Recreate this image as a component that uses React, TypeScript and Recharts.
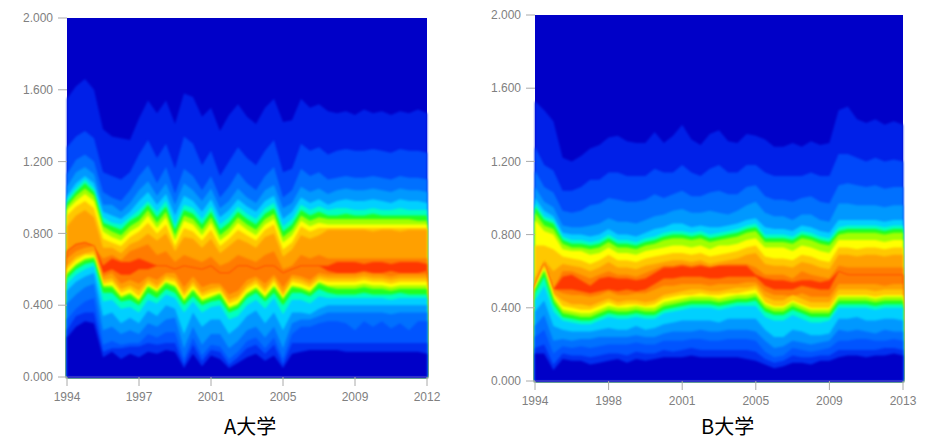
import { AreaChart, Area, XAxis, YAxis, CartesianGrid } from 'recharts';

// contour levels, in hundredths of the y unit
// U* = upper side of the ridge (top down), L* = lower side (ridge down to the floor)
const aU1 = [155,162,166,160,138,134,133,132,144,154,147,154,141,158,156,145,150,137,146,152,145,141,150,155,142,143,155,150,152,148,147,148,146,149,147,148,146,148,147,149,147];
const aU2 = [128,134,137,133,114,112,110,114,124,132,122,130,116,134,130,118,126,112,120,128,122,118,126,132,114,116,130,126,128,124,126,127,126,126,127,126,125,127,126,126,125];
const aU3 = [113,121,124,120,103,100,98,104,112,118,108,117,102,116,112,104,112,100,106,114,108,104,112,117,100,104,116,112,114,110,111,112,111,111,112,111,110,112,111,111,110];
const aU4 = [106,114,117,113,96,96,92,97,104,109,101,108,96,108,104,98,105,94,98,105,100,97,104,107,94,97,106,103,105,102,104,105,104,104,105,104,103,105,104,104,103];
const aU5 = [101,108,112,108,92,90,88,92,98,103,96,102,90,101,98,92,99,89,93,99,95,92,98,101,88,92,100,97,99,96,98,99,98,98,99,98,97,99,98,98,97];
const aU6 = [99,105,110,105,89,86,85,89,93,98,92,98,85,96,94,88,95,85,89,95,91,88,94,97,84,88,96,93,95,93,94,94,93,93,94,93,93,94,93,93,93];
const aU7 = [97,103,108,103,86,84,82,87,90,96,89,95,82,93,91,85,92,82,86,92,88,85,91,94,81,85,93,90,92,90,90,91,90,90,91,90,90,90,90,90,90];
const aU8 = [95,101,105,101,84,81,79,84,87,93,86,92,79,90,88,82,89,79,83,89,85,82,88,91,78,82,90,87,89,88,88,88,88,88,88,88,88,88,88,87,87];
const aU9 = [93,98,102,98,81,78,76,81,84,90,83,89,76,87,85,79,86,76,80,86,82,79,85,88,75,79,87,84,86,85,85,85,85,85,85,85,85,85,85,85,85];
const aU10 = [90,95,98,94,77,75,73,78,81,86,80,85,73,83,81,76,82,73,77,82,79,76,82,85,71,75,84,81,83,83,83,83,83,83,83,83,83,83,83,83,83];
const aU11 = [84,90,93,89,72,72,69,74,76,80,76,80,70,78,77,72,77,69,73,77,75,72,78,80,67,71,79,77,79,82,82,82,82,82,81,82,82,81,82,82,82];
const aU12 = [67,72,74,72,66,68,65,70,72,74,68,70,64,68,66,64,67,62,64,68,66,64,68,70,60,62,68,66,68,66,66,66,66,66,66,66,66,66,66,66,66];
const aU13 = [70,74,75,73,62,66,64,64,66,64,62,62,60,62,61,60,62,58,58,62,62,60,62,62,58,60,62,62,62,62,64,64,64,63,64,64,63,64,64,64,63];
const aL13 = [70,74,75,73,58,60,57,57,60,60,62,62,60,62,61,60,62,58,58,62,62,60,62,62,58,60,62,62,62,59,58,58,58,59,58,58,59,58,58,58,59];
const aL12 = [66,70,72,73,56,58,52,54,52,56,54,58,58,50,56,50,52,52,46,48,54,56,52,57,50,57,56,54,58,57,57,57,57,58,57,57,56,57,57,57,57];
const aL11 = [62,67,69,70,54,55,49,51,48,54,51,56,55,47,53,47,49,50,43,45,51,54,49,55,47,55,54,52,56,55,55,55,55,56,55,55,54,55,55,55,55];
const aL10 = [60,65,68,68,52,53,47,49,45,52,49,54,53,45,51,45,47,48,41,43,49,52,47,53,45,53,52,50,54,53,53,53,53,54,53,53,52,53,53,53,53];
const aL9 = [58,63,66,67,51,51,45,47,43,51,48,53,51,43,49,43,45,47,39,41,47,50,45,51,44,51,50,48,53,51,51,51,51,52,51,51,50,51,51,51,51];
const aL8 = [57,62,65,66,50,50,44,46,42,50,47,52,50,42,48,42,44,46,38,40,46,49,44,50,43,50,49,47,52,50,49,49,49,50,49,49,48,49,49,49,49];
const aL7 = [55,60,63,64,47,47,42,43,40,47,44,49,47,40,45,40,42,43,36,38,44,47,42,47,40,47,47,45,49,47,46,46,46,47,46,46,46,47,46,46,46];
const aL6 = [52,57,60,62,42,43,38,39,36,43,41,46,44,36,42,36,39,40,32,34,40,43,38,44,35,43,43,41,45,44,44,44,44,44,44,44,43,44,44,44,44];
const aL5 = [48,53,56,58,34,36,30,33,30,37,34,40,38,24,36,28,32,32,24,28,34,37,30,36,26,36,36,35,38,40,40,40,40,40,40,40,40,40,40,40,40];
const aL4 = [41,46,50,52,26,28,24,26,24,30,28,32,33,16,28,18,24,24,16,20,26,28,22,28,16,30,32,32,34,36,36,36,36,36,36,36,35,36,36,36,36];
const aL3 = [32,38,42,44,18,20,18,19,19,24,22,25,25,10,22,12,18,17,10,14,20,22,16,22,10,24,28,28,30,31,31,30,26,31,28,31,27,30,26,31,31];
const aL2 = [26,34,36,36,14,16,16,17,17,19,18,19,19,7,18,9,15,14,7,11,16,18,13,18,7,19,19,19,19,19,19,19,19,19,19,19,19,19,19,19,19];
const aL1 = [22,28,31,30,11,14,10,13,11,14,13,15,14,5,13,6,12,10,5,8,11,13,9,12,5,13,14,15,15,15,15,14,14,14,14,14,14,14,14,14,13];

const bU1 = [153,148,142,122,120,123,127,129,133,134,131,130,130,136,130,134,140,132,129,135,137,131,130,135,134,132,128,128,130,128,131,129,130,148,150,143,141,143,140,142,140];
const bU2 = [128,118,115,104,104,106,110,110,114,114,112,112,112,116,114,114,118,114,112,116,118,114,114,118,118,114,112,112,112,112,114,112,112,124,124,122,120,122,120,121,120];
const bU3 = [115,106,103,93,92,93,96,97,100,99,98,98,99,102,100,102,104,101,101,103,104,102,102,106,107,101,99,99,98,100,101,98,97,107,108,107,106,107,105,106,106];
const bU4 = [106,98,95,85,84,84,85,86,89,87,87,86,88,90,91,93,94,92,92,93,92,91,93,96,98,92,90,90,88,91,91,88,87,97,97,96,96,96,95,96,96];
const bU5 = [100,93,90,81,80,80,79,80,83,80,80,79,81,83,84,86,86,84,85,84,84,85,86,88,89,84,83,83,82,85,84,82,81,88,88,88,88,88,87,88,88];
const bU6 = [97,90,88,79,77,77,76,77,80,77,77,76,78,79,81,82,82,81,82,80,81,82,83,85,86,80,80,80,79,82,81,79,78,84,85,85,85,85,84,85,85];
const bU7 = [95,88,86,77,75,75,74,75,78,75,75,74,76,77,79,80,80,79,80,78,79,80,81,83,84,78,78,78,77,80,79,77,76,82,83,83,83,83,82,83,83];
const bU8 = [92,85,83,75,73,73,72,73,76,73,73,72,74,75,77,78,78,77,78,76,77,78,79,81,82,76,76,76,75,78,77,75,74,80,81,81,81,81,80,81,81];
const bU9 = [88,82,80,72,71,71,69,70,73,70,70,69,71,72,73,74,74,73,74,72,74,74,75,77,78,73,73,73,71,74,73,71,70,77,77,77,77,77,76,77,77];
const bU10 = [74,74,72,68,67,66,64,66,69,66,66,65,67,68,69,70,70,69,70,68,69,70,71,73,74,68,67,67,66,69,68,66,65,73,73,72,73,73,72,73,73];
const bU11 = [56,66,60,64,63,62,60,62,65,62,62,61,63,64,65,66,66,65,66,64,65,66,67,69,70,64,63,63,62,65,64,62,61,69,69,68,69,69,68,69,69];
const bU12 = [52,64,50,60,60,58,56,58,60,58,58,57,59,61,63,63,64,63,64,62,63,64,64,64,62,58,58,58,56,60,58,57,56,63,62,62,62,62,62,62,62];
const bU13 = [52,64,50,57,58,55,52,56,57,56,56,55,56,59,62,62,63,62,63,62,63,63,63,63,58,56,55,55,54,55,55,54,55,60,58,58,58,58,58,58,58];
const bL13 = [52,64,50,50,50,49,48,49,50,49,50,49,50,53,56,56,57,57,57,56,56,57,57,57,57,52,50,50,50,52,51,50,50,60,58,58,58,58,58,58,58];
const bL12 = [52,64,50,48,47,47,46,47,49,47,47,48,48,50,52,52,53,53,53,52,53,53,53,54,54,49,47,47,46,48,46,46,46,53,53,53,53,53,52,53,53];
const bL11 = [52,64,48,44,42,42,41,43,45,43,44,44,43,44,47,48,49,50,50,49,49,50,51,51,52,46,44,44,47,45,43,43,43,50,50,50,50,49,50,50,50];
const bL10 = [51,62,47,41,40,39,39,41,43,41,42,42,41,42,45,46,47,47,48,47,47,48,48,49,50,43,41,41,44,42,40,40,40,47,47,47,47,46,47,47,47];
const bL9 = [50,61,46,39,38,37,37,39,41,40,40,41,40,40,43,44,45,46,46,46,45,46,47,47,48,42,40,40,43,41,39,39,39,46,46,46,46,45,46,46,46];
const bL8 = [50,60,44,37,36,35,35,37,39,38,38,39,38,38,41,42,43,44,44,44,43,44,45,45,46,40,38,38,41,39,37,37,37,44,44,44,44,43,44,44,44];
const bL7 = [48,57,42,35,34,33,33,35,37,36,36,37,36,36,39,40,41,42,42,42,41,42,43,43,44,38,36,36,39,37,35,35,35,42,42,42,42,41,42,42,42];
const bL6 = [44,52,38,33,32,31,31,33,35,34,34,35,34,34,37,38,39,40,40,40,39,40,41,41,41,35,33,33,36,34,32,32,33,40,40,40,40,39,40,40,40];
const bL5 = [38,44,30,28,27,27,27,28,29,28,28,30,28,29,31,32,33,33,33,33,32,34,34,34,34,28,24,24,28,27,25,25,26,34,34,35,33,33,34,34,33];
const bL4 = [30,36,22,23,22,23,23,24,24,24,24,25,24,24,26,27,27,27,28,27,27,28,28,28,27,22,18,19,22,21,20,21,22,28,27,28,27,26,28,27,27];
const bL3 = [24,28,15,19,18,19,18,19,20,20,20,21,20,20,22,22,22,23,23,22,22,23,23,23,22,16,13,14,18,17,16,17,18,22,22,23,23,22,22,23,22];
const bL2 = [18,20,9,15,14,14,13,14,15,15,14,16,15,15,17,16,17,18,17,17,17,17,17,17,16,12,10,11,14,13,13,14,14,17,17,17,17,17,18,18,17];
const bL1 = [15,15,6,12,11,11,9,10,11,12,10,12,11,12,13,13,13,14,13,13,13,13,13,12,11,9,7,8,10,10,9,11,11,13,14,14,13,14,14,15,14];

const A_LEVELS = [aU1,aU2,aU3,aU4,aU5,aU6,aU7,aU8,aU9,aU10,aU11,aU12,aU13,aL13,aL12,aL11,aL10,aL9,aL8,aL7,aL6,aL5,aL4,aL3,aL2,aL1];
const B_LEVELS = [bU1,bU2,bU3,bU4,bU5,bU6,bU7,bU8,bU9,bU10,bU11,bU12,bU13,bL13,bL12,bL11,bL10,bL9,bL8,bL7,bL6,bL5,bL4,bL3,bL2,bL1];

const A_YEARS = ['1994', '1997', '2001', '2005', '2009', '2012'];
const B_YEARS = ['1994', '1998', '2001', '2005', '2009', '2013'];
const Y_TICKS = [0, 0.4, 0.8, 1.2, 1.6, 2];
const X_TICKS = [0, 8, 16, 24, 32, 40];

// fill under each level, same order as the level lists
const LEVEL_COLORS = [
  '#0020e8', '#0048fa', '#0070ff', '#0098ff', '#00d0ff', '#00ffc0', '#20ff20', '#a0ff00', '#ffff00', '#ffc800', '#ffa000', '#ff7c00', '#ff3800',
  '#ff7c00', '#ffa000', '#ffc800', '#ffff00', '#a0ff00', '#20ff20', '#00ffc0', '#00d0ff', '#0098ff', '#0070ff', '#0054ff', '#0030f0', '#0000c8',
];

const tickStyle = { fontSize: 12, fill: '#808080', fontFamily: '"Liberation Sans", Arial, sans-serif' };

function ContourChart({ levels, years, left, top, width, height, right, plotTop, plotHeight }: any) {
  const rows = levels[0].map((_: number, i: number) => {
    const row: Record<string, number> = { i };
    levels.forEach((lv: number[], n: number) => {
      row[`l${n}`] = lv[i] / 100;
    });
    return row;
  });
  return (
    <div style={{ position: 'absolute', left, top }}>
      <AreaChart width={width} height={height} data={rows} margin={{ top: plotTop, right, left: 0, bottom: 0 }}>
        <CartesianGrid fill="#0000c8" stroke="none" />
        <YAxis
          type="number"
          domain={[0, 2]}
          ticks={Y_TICKS}
          tickFormatter={(v) => v.toFixed(3)}
          tick={tickStyle}
          tickSize={9}
          tickMargin={5}
          tickLine={{ stroke: '#aaaaaa' }}
          axisLine={false}
          interval={0}
          width={67}
        />
        {levels.map((_: number[], n: number) => (
          <Area
            key={n}
            dataKey={`l${n}`}
            type="linear"
            stroke="none"
            fill={LEVEL_COLORS[n]}
            fillOpacity={1}
            dot={false}
            activeDot={false}
            isAnimationActive={false}
          />
        ))}
        <XAxis
          dataKey="i"
          type="number"
          domain={[0, 40]}
          ticks={X_TICKS}
          tickFormatter={(v) => years[v / 8]}
          tick={tickStyle}
          tickSize={9}
          tickMargin={6}
          tickLine={{ stroke: '#aaaaaa' }}
          axisLine={{ stroke: '#3030c8', strokeWidth: 2 }}
          interval={0}
          height={height - plotTop - plotHeight}
        />
      </AreaChart>
    </div>
  );
}

const captionStyle = {
  position: 'absolute' as const,
  top: 414,
  fontSize: 20,
  color: '#000',
  fontFamily: '"Noto Sans CJK JP", "Noto Sans", sans-serif',
  lineHeight: '24px',
};

export default function App() {
  return (
    <div style={{ position: 'absolute', left: 0, top: 0, width: 937, height: 439, background: '#fff', overflow: 'hidden' }}>
      <style>{'.recharts-area-area { filter: blur(0.8px); }'}</style>
      <ContourChart levels={A_LEVELS} years={A_YEARS} left={0} top={0} width={468} height={412} right={41} plotTop={18} plotHeight={359} />
      <ContourChart levels={B_LEVELS} years={B_YEARS} left={468} top={0} width={469} height={412} right={34} plotTop={15} plotHeight={366} />
      <div style={{ ...captionStyle, left: 224 }}>A大学</div>
      <div style={{ ...captionStyle, left: 701 }}>B大学</div>
    </div>
  );
}
